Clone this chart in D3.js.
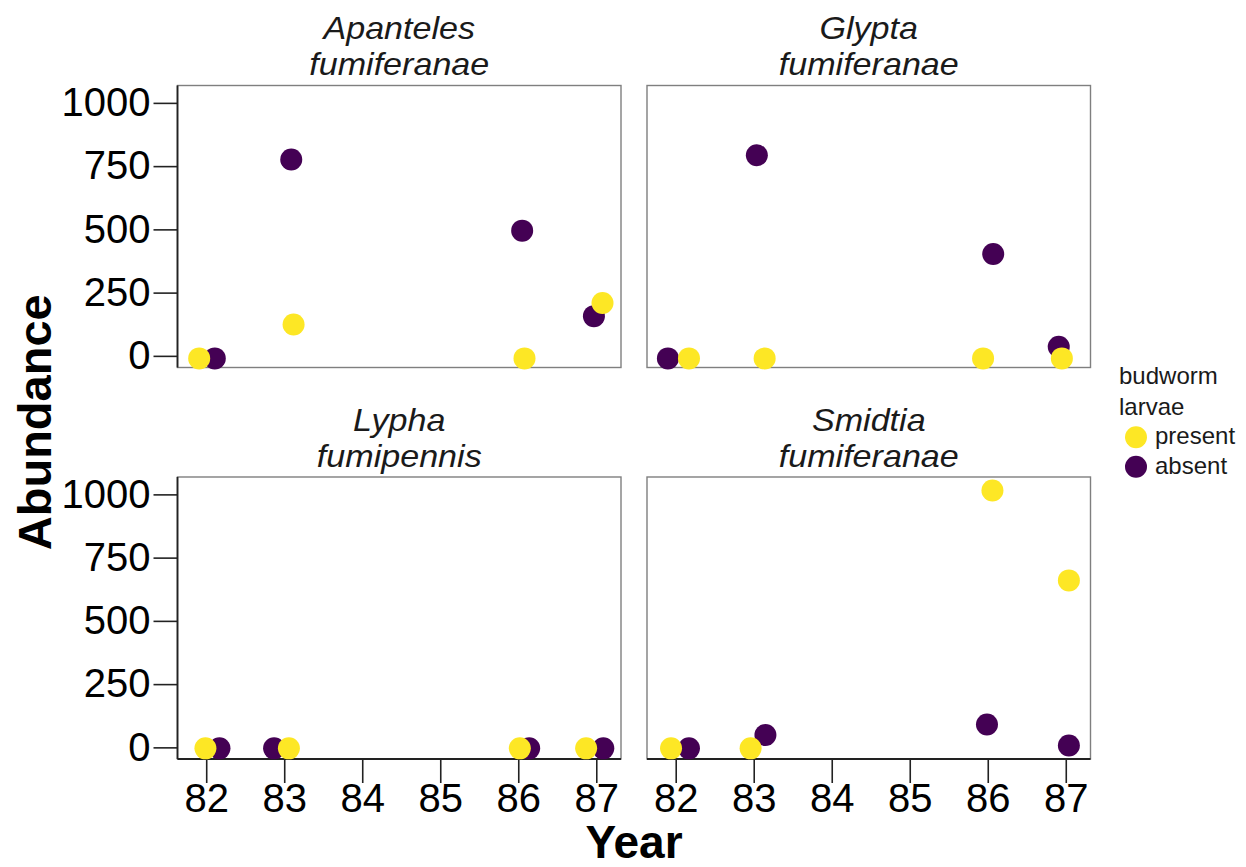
<!DOCTYPE html>
<html>
<head>
<meta charset="utf-8">
<script src="https://cdn.jsdelivr.net/npm/d3@7"></script>
<style>
  body { margin: 0; background: #fff; }
  text { font-family: "Liberation Sans", Arial, sans-serif; }
</style>
</head>
<body>
<script>
"use strict";

// facet titles (two lines each)
const facetTitles = [
	["Apanteles", "fumiferanae"],
	["Glypta", "fumiferanae"],
	["Lypha", "fumipennis"],
	["Smidtia", "fumiferanae"]
];

// jittered year positions and abundance, per facet
const presentYear = [[81.91, 83.12, 86.08, 87.08], [82.17, 83.14, 85.94, 86.95], [81.99, 83.06, 86.02, 86.87], [81.94, 82.96, 86.06, 87.04]];
const presentAbundance = [[-10, 124, -10, 209], [-10, -10, -10, -10], [-4, -4, -4, -4], [-4, -4, 1015, 660]];
const absentYear = [[82.11, 83.09, 86.05, 86.97], [81.90, 83.04, 86.07, 86.91], [82.17, 82.87, 86.14, 87.09], [82.17, 83.15, 85.99, 87.04]];
const absentAbundance = [[-10, 776, 495, 157], [-10, 793, 403, 36], [-4, -4, -4, -4], [-4, 49, 90, 7]];

const yearTicks = [82, 83, 84, 85, 86, 87];
const abundanceTicks = [0, 250, 500, 750, 1000];
const legendLabels = ["present", "absent"];
const colors = { present: "#FDE725", absent: "#440154" };

const W = 1246, H = 867;
const panelW = 443.5, panelH = 282;
const lefts = [177.5, 647];
const tops = [85.5, 477];
const tickLen = 24;

let svg = d3.select("body").append("svg")
	.attr("width", W)
	.attr("height", H);

let x = d3.scaleLinear().domain([81.632, 87.317]).range([0, panelW]);
let y = d3.scaleLinear().domain([-46, 1068.7]).range([panelH, 0]);

for (let f = 0; f < 4; ++f)
{
	let col = f % 2, row = Math.floor(f / 2);
	let g = svg.append("g")
		.attr("transform", "translate(" + lefts[col] + "," + tops[row] + ")");

	//strip title, two lines, a little wider than the plain font
	let strip = g.append("g")
		.attr("transform", "translate(" + (panelW / 2) + ",0) scale(1.1,1)");
	strip.append("text")
		.attr("y", -46.5)
		.attr("text-anchor", "middle")
		.attr("font-style", "italic")
		.attr("font-size", 31)
		.attr("fill", "#1a1a1a")
		.text(facetTitles[f][0]);
	strip.append("text")
		.attr("y", -10.5)
		.attr("text-anchor", "middle")
		.attr("font-style", "italic")
		.attr("font-size", 31)
		.attr("fill", "#1a1a1a")
		.text(facetTitles[f][1]);

	//panel border
	g.append("rect")
		.attr("width", panelW)
		.attr("height", panelH)
		.attr("fill", "none")
		.attr("stroke", "#7f7f7f")
		.attr("stroke-width", 1.4);

	//y axis on left column
	if (col === 0)
	{
		let ya = g.append("g")
			.call(d3.axisLeft(y).tickValues(abundanceTicks).tickSize(tickLen).tickPadding(3).tickFormat(d3.format("d")));
		ya.select(".domain").remove();
		ya.selectAll(".tick line").attr("stroke", "#222").attr("stroke-width", 1.6);
		ya.selectAll(".tick text")
			.attr("font-size", 40)
			.attr("fill", "#000")
			.attr("font-family", "'Liberation Sans', Arial, sans-serif");
		g.append("line")
			.attr("x1", 0).attr("x2", 0)
			.attr("y1", 0).attr("y2", panelH)
			.attr("stroke", "#222")
			.attr("stroke-width", 1.8);
	}

	//x axis on bottom row
	if (row === 1)
	{
		let xa = g.append("g")
			.attr("transform", "translate(0," + panelH + ")")
			.call(d3.axisBottom(x).tickValues(yearTicks).tickSize(tickLen).tickPadding(1).tickFormat(d3.format("d")));
		xa.select(".domain").remove();
		xa.selectAll(".tick line").attr("stroke", "#222").attr("stroke-width", 1.6);
		xa.selectAll(".tick text")
			.attr("font-size", 40)
			.attr("fill", "#000")
			.attr("font-family", "'Liberation Sans', Arial, sans-serif");
		g.append("line")
			.attr("x1", 0).attr("x2", panelW)
			.attr("y1", panelH).attr("y2", panelH)
			.attr("stroke", "#222")
			.attr("stroke-width", 1.8);
	}

	//points: absent first, present on top
	let absent = absentYear[f].map(function(d, i) { return [d, absentAbundance[f][i]]; });
	let present = presentYear[f].map(function(d, i) { return [d, presentAbundance[f][i]]; });
	g.selectAll("circle.absent").data(absent).enter().append("circle")
		.attr("class", "absent")
		.attr("cx", function(d) { return x(d[0]); })
		.attr("cy", function(d) { return y(d[1]); })
		.attr("r", 11)
		.attr("fill", colors.absent);
	g.selectAll("circle.present").data(present).enter().append("circle")
		.attr("class", "present")
		.attr("cx", function(d) { return x(d[0]); })
		.attr("cy", function(d) { return y(d[1]); })
		.attr("r", 11)
		.attr("fill", colors.present);
}

//axis titles
svg.append("text")
	.attr("transform", "translate(51," + (tops[0] + (tops[1] + panelH - tops[0]) / 2) + ") rotate(-90)")
	.attr("text-anchor", "middle")
	.attr("font-weight", "bold")
	.attr("font-size", 47)
	.attr("fill", "#000")
	.text("Abundance");

svg.append("text")
	.attr("x", (lefts[0] + lefts[1] + panelW) / 2)
	.attr("y", 858)
	.attr("text-anchor", "middle")
	.attr("font-weight", "bold")
	.attr("font-size", 46)
	.attr("fill", "#000")
	.text("Year");

//legend
let legend = svg.append("g").attr("transform", "translate(1119,0)");
legend.append("text").attr("x", 0).attr("y", 384).attr("font-size", 24).attr("fill", "#1a1a1a").text("budworm");
legend.append("text").attr("x", 0).attr("y", 415).attr("font-size", 24).attr("fill", "#1a1a1a").text("larvae");
legendLabels.forEach(function(lab, i)
{
	let cy = 437.3 + i * 29.4;
	legend.append("circle")
		.attr("cx", 17)
		.attr("cy", cy)
		.attr("r", 11)
		.attr("fill", colors[lab]);
	legend.append("text")
		.attr("x", 36)
		.attr("y", cy + 7)
		.attr("font-size", 24)
		.attr("fill", "#1a1a1a")
		.text(lab);
});
</script>
</body>
</html>
